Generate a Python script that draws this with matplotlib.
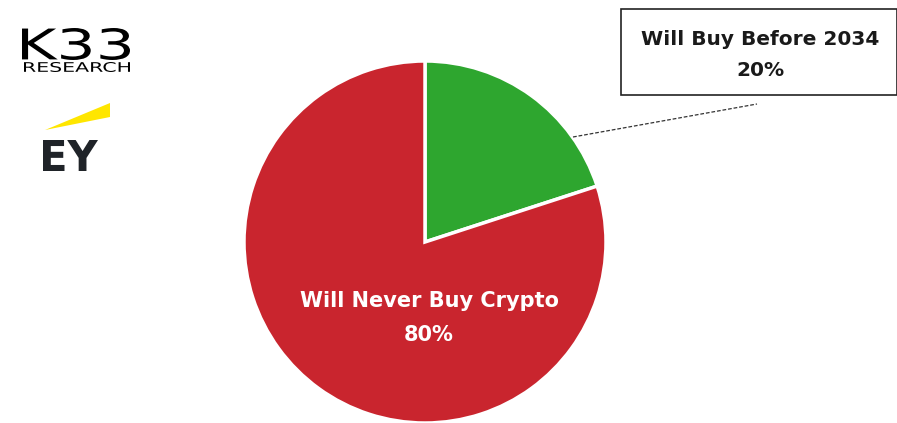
import matplotlib.pyplot as plt
from matplotlib.patches import Polygon, Rectangle, PathPatch
from matplotlib.textpath import TextPath
from matplotlib.font_manager import FontProperties
from matplotlib.transforms import Affine2D

labels = ['Will Buy Before 2034', 'Will Never Buy Crypto']
shares = [20, 80]
colors = ['#2EA62F', '#C9252E']

plt.rcParams['font.family'] = ['DejaVu Sans']

fig = plt.figure(figsize=(8.97, 4.23), dpi=100)
ax = fig.add_axes([0, 0, 1, 1])

# pie in pixel coordinates (y up)
cx, cy, r = 425, 181, 181
wedges, _ = ax.pie(shares, colors=colors, startangle=90, counterclock=False,
                   center=(cx, cy), radius=r, frame=True,
                   wedgeprops=dict(edgecolor='white', linewidth=2.5))
ax.set_xlim(0, 897)
ax.set_ylim(0, 423)
ax.set_aspect('auto')
ax.axis('off')

# inside label for the big slice
ax.text(429, 105, f'{labels[1]}\n{shares[1]}%', color='white', fontsize=15,
        fontweight='bold', ha='center', va='center', linespacing=1.85)

# callout for the small slice
ax.add_patch(Rectangle((621, 328), 276, 86, facecolor='white', edgecolor='#222222',
                       linewidth=1.2, clip_on=False))
ax.text(760, 368, f'{labels[0]}\n{shares[0]}%', color='#1a1a1a', fontsize=14.5,
        fontweight='bold', ha='center', va='center', linespacing=1.85)
ax.plot([573, 757], [286, 319], color='#333333', linewidth=0.9, linestyle=(0, (3, 1.5)))


def fit_text(s, x0, y0, x1, y1, color, weight='normal'):
    # logo lettering stretched into a pixel box
    tp = TextPath((0, 0), s, size=10, prop=FontProperties(family='DejaVu Sans', weight=weight))
    bb = tp.get_extents()
    t = (Affine2D().translate(-bb.x0, -bb.y0)
         .scale((x1 - x0) / bb.width, (y1 - y0) / bb.height).translate(x0, y0))
    ax.add_patch(PathPatch(t.transform_path(tp), facecolor=color, edgecolor='none'))


# logos
fit_text('K33', 22, 423 - 60, 130, 423 - 28, 'black')
fit_text('RESEARCH', 24, 423 - 72, 130, 423 - 62, 'black')
ax.add_patch(Polygon([[45, 293], [110, 320], [110, 306]], closed=True,
                     facecolor='#FFE600', edgecolor='none'))
fit_text('EY', 43, 423 - 171, 98, 423 - 140, '#1f2328', weight='bold')

fig.savefig('out.png', dpi=100)
